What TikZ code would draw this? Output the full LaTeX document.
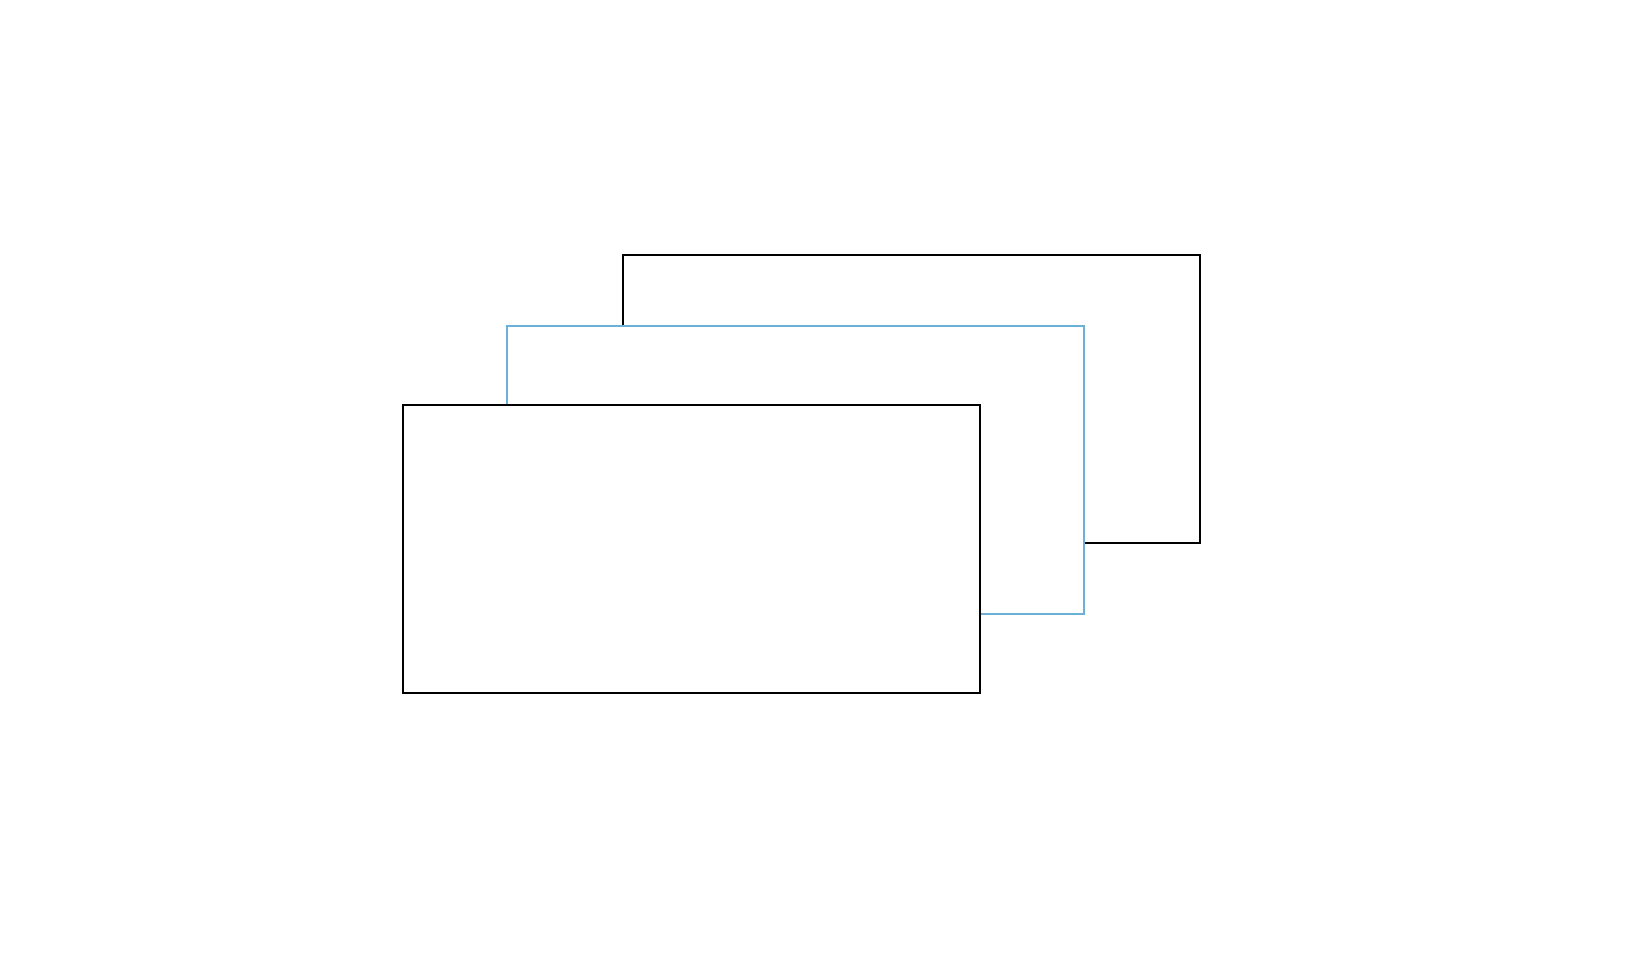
\documentclass[tikz,border=0pt]{standalone}
\definecolor{layerblue}{RGB}{107,176,214}
\begin{document}
\begin{tikzpicture}[x=0.01cm,y=0.01cm,
  layer/.style={draw,fill=white,line width=0.65pt,inner sep=0pt,minimum width=5.77cm,minimum height=2.88cm}]
\useasboundingbox (0,0) rectangle (1642,966);
\node[layer] (back) at (911.5,567) {};
\node[layer,draw=layerblue] (middle) at (795.5,496) {};
\node[layer] (front) at (691.5,417) {};
\end{tikzpicture}
\end{document}
